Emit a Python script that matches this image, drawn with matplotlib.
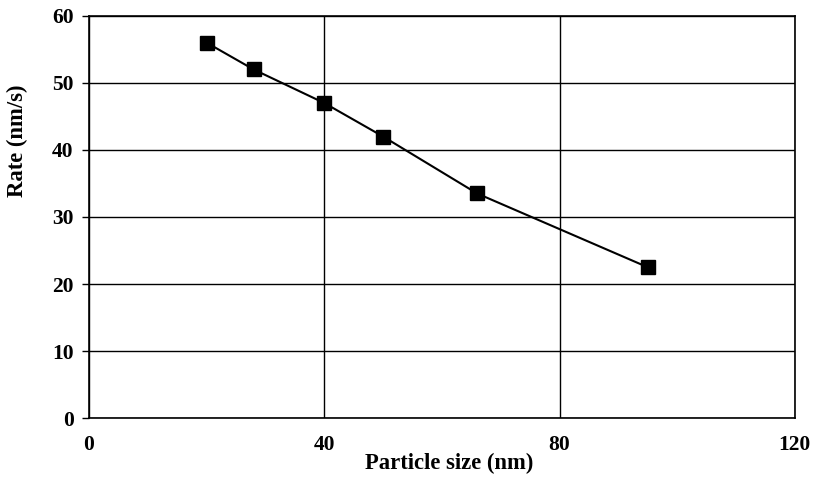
import matplotlib
matplotlib.use("Agg")
import matplotlib.pyplot as plt

# Data
particle_size = [20, 28, 40, 50, 66, 95]
rate = [56, 52, 47, 42, 33.5, 22.5]

x_ticks = [0, 40, 80, 120]
y_ticks = [0, 10, 20, 30, 40, 50, 60]

plt.rcParams['font.family'] = ['Liberation Serif', 'DejaVu Serif']
plt.rcParams['font.weight'] = 'bold'

fig = plt.figure(figsize=(8.16, 4.8), dpi=100)
ax = fig.add_axes([0.109, 0.129, 0.865, 0.838])

ax.plot(
    particle_size,
    rate,
    color='black',
    linewidth=1.5,
    marker='s',
    markersize=10.5,
    markerfacecolor='black',
    markeredgecolor='black',
    zorder=3
)

ax.set_xlim(0, 120)
ax.set_ylim(0, 60)
ax.set_xticks(x_ticks)
ax.set_yticks(y_ticks)
ax.grid(True, color='black', linewidth=1.0)

for spine in ax.spines.values():
    spine.set_color('black')
    spine.set_linewidth(1.2)

ax.tick_params(axis='x', length=0, pad=12, labelsize=15.5)
ax.tick_params(axis='y', length=5, width=1.0, pad=6, labelsize=15.5,
               direction='out')

ax.set_xlabel('Particle size (nm)', fontsize=16.3, fontweight='bold')
ax.set_ylabel('Rate (nm/s)', fontsize=16.3, fontweight='bold')

# label positions as in the reference (y label sits high, off centre)
ax.xaxis.set_label_coords(0.511, -0.086)
ax.xaxis.label.set_verticalalignment('top')
ax.yaxis.set_label_coords(-0.087, 0.69)

fig.savefig('out.png', dpi=100, facecolor='white')
plt.close(fig)
